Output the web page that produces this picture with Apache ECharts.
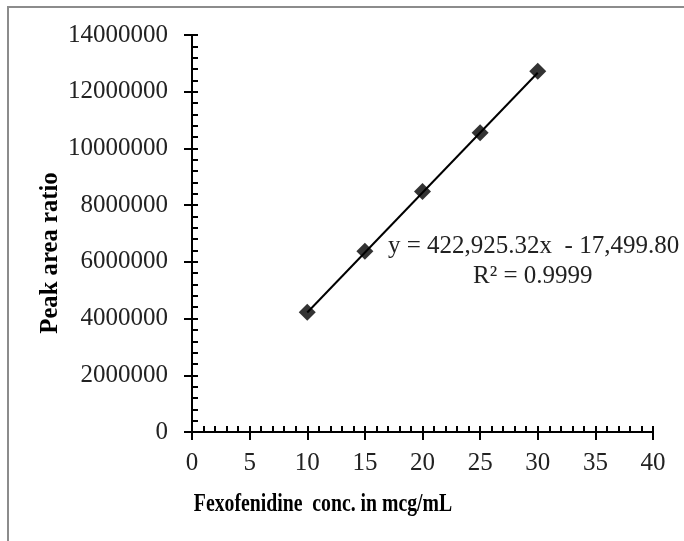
<!DOCTYPE html>
<html><head><meta charset="utf-8">
<script src="https://cdn.jsdelivr.net/npm/echarts@6/dist/echarts.min.js"></script>
<style>html,body{margin:0;padding:0;background:#fff}#c{width:684px;height:541px}</style>
</head><body><div id="c"></div>
<script>
var concentrations = [10, 15, 20, 25, 30];
var peakAreaRatio = [4220000, 6370000, 8480000, 10550000, 12720000];
var trendX = [10, 30];
var trendY = [4211753, 12670260];
var xTitle = 'Fexofenidine  conc. in mcg/mL';
var yTitle = 'Peak area ratio';
var equationText = 'y = 422,925.32x  - 17,499.80';
var r2Text = 'R\u00b2 = 0.9999';

var font = 'Liberation Serif';
var chart = echarts.init(document.getElementById('c'));
var pts = concentrations.map(function(x, i){ return [x, peakAreaRatio[i]]; });
var trend = trendX.map(function(x, i){ return [x, trendY[i]]; });
var axisCommon = {type:'value', min:0, splitLine:{show:false}};
chart.setOption({
  animation:false,
  backgroundColor:'#fff',
  grid:{left:192, top:35, right:31, bottom:109, containLabel:false},
  xAxis:[
    Object.assign({}, axisCommon, {max:40, interval:5, position:'bottom',
      axisLine:{show:true, lineStyle:{color:'#000', width:2}},
      axisTick:{show:true, inside:false, length:8, lineStyle:{color:'#000', width:2}},
      axisLabel:{fontFamily:font, fontSize:25, color:'#222', margin:19}}),
    Object.assign({}, axisCommon, {max:40, interval:5, position:'bottom', offset:0,
      axisLine:{show:false},
      axisTick:{show:true, inside:true, length:6, lineStyle:{color:'#000', width:2}},
      minorTick:{show:true, splitNumber:5, length:6, lineStyle:{color:'#000', width:2}},
      axisLabel:{show:false}})
  ],
  yAxis:[
    Object.assign({}, axisCommon, {max:14000000, interval:2000000, position:'left',
      axisLine:{show:true, lineStyle:{color:'#000', width:2}},
      axisTick:{show:true, inside:false, length:8, lineStyle:{color:'#000', width:2}},
      axisLabel:{fontFamily:font, fontSize:25, color:'#222', margin:24,
        formatter:function(v){ return String(v); }}}),
    Object.assign({}, axisCommon, {max:14000000, interval:2000000, position:'left', offset:0,
      axisLine:{show:false},
      axisTick:{show:true, inside:true, length:6, lineStyle:{color:'#000', width:2}},
      minorTick:{show:true, splitNumber:5, length:6, lineStyle:{color:'#000', width:2}},
      axisLabel:{show:false}})
  ],
  series:[
    {type:'line', data:trend, symbol:'none', lineStyle:{color:'#000', width:2}, z:2},
    {type:'scatter', data:pts, symbol:'diamond', symbolSize:17, itemStyle:{color:'#000'}, z:3}
  ],
  graphic:[
    {type:'rect', shape:{x:8, y:7, width:700, height:560}, style:{fill:'none', stroke:'#8c8c8c', lineWidth:2}, silent:true},
    {type:'text', x:323, y:505, scaleX:0.79, style:{text:xTitle, font:'bold 25px "Liberation Serif"', fill:'#000', align:'center', verticalAlign:'middle'}},
    {type:'text', x:50, y:253, rotation:Math.PI/2, scaleX:0.95, style:{text:yTitle, font:'bold 26px "Liberation Serif"', fill:'#000', align:'center', verticalAlign:'middle'}},
    {type:'text', x:388, y:246, style:{text:equationText, font:'25px "Liberation Serif"', fill:'#222', align:'left', verticalAlign:'middle'}},
    {type:'text', x:473, y:276, style:{text:r2Text, font:'25px "Liberation Serif"', fill:'#222', align:'left', verticalAlign:'middle'}}
  ]
});
</script></body></html>
